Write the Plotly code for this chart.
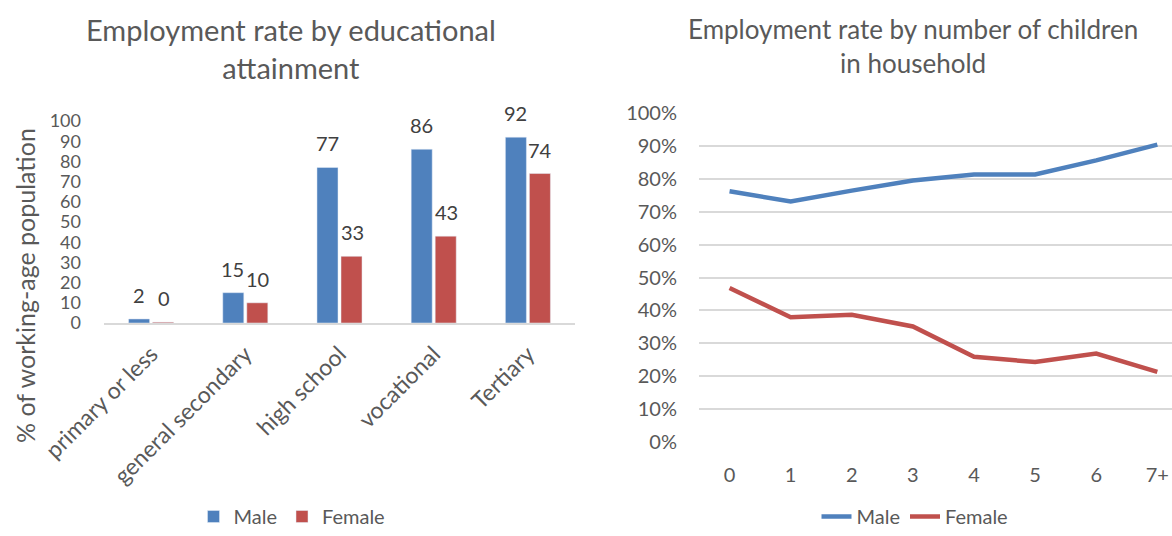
import plotly.graph_objects as go

# Employment rate by educational attainment (% of working-age population)
edu_levels = ["primary or less", "general secondary", "high school", "vocational", "Tertiary"]
edu_male = [2, 15, 77, 86, 92]
edu_female = [0.4, 10, 33, 43, 74]

# Employment rate by number of children in household (share)
children = ["0", "1", "2", "3", "4", "5", "6", "7+"]
kids_male = [0.762, 0.731, 0.764, 0.795, 0.813, 0.813, 0.856, 0.904]
kids_female = [0.468, 0.379, 0.387, 0.351, 0.259, 0.243, 0.269, 0.213]

BLUE = "#4F81BD"
RED = "#C0504D"
GREY = "#595959"
FONT = "Lato, Carlito, Calibri, sans-serif"

W, H = 1172, 536


def px_x(x):
    return x / W


def px_y(y):
    return (H - y) / H


fig = go.Figure()

fig.add_trace(go.Bar(x=edu_levels, y=edu_male, name="Male", marker_color=BLUE,
                     xaxis="x", yaxis="y", legend="legend"))
fig.add_trace(go.Bar(x=edu_levels, y=edu_female, name="Female", marker_color=RED,
                     xaxis="x", yaxis="y", legend="legend"))

fig.add_trace(go.Scatter(x=children, y=kids_male, name="Male", mode="lines",
                         line=dict(color=BLUE, width=4.5),
                         xaxis="x2", yaxis="y2", legend="legend2"))
fig.add_trace(go.Scatter(x=children, y=kids_female, name="Female", mode="lines",
                         line=dict(color=RED, width=4.5),
                         xaxis="x2", yaxis="y2", legend="legend2"))

# value labels above the bars
annotations = []
for series, shift in ((edu_male, -12.5), (edu_female, 12.5)):
    for cat, v in zip(edu_levels, series):
        annotations.append(dict(
            x=cat, y=v, xref="x", yref="y", text=f"{v:.0f}", showarrow=False,
            xshift=shift, yshift=24, yanchor="middle",
            font=dict(family=FONT, size=20, color="#404040")))

# chart titles and left axis title
annotations += [
    dict(x=px_x(291), y=px_y(48), xref="paper", yref="paper",
         text="Employment rate by educational<br>attainment", showarrow=False,
         xanchor="center", yanchor="middle",
         font=dict(family=FONT, size=29, color=GREY)),
    dict(x=px_x(913), y=px_y(46), xref="paper", yref="paper",
         text="Employment rate by number of children<br>in household", showarrow=False,
         xanchor="center", yanchor="middle",
         font=dict(family=FONT, size=26, color=GREY)),
    dict(x=px_x(25), y=px_y(286), xref="paper", yref="paper",
         text="% of working-age population", showarrow=False, textangle=-90,
         xanchor="center", yanchor="middle",
         font=dict(family=FONT, size=25, color=GREY)),
]

tick_font = dict(family=FONT, size=20, color=GREY)

fig.update_layout(
    width=W, height=H,
    margin=dict(l=0, r=0, t=0, b=0, autoexpand=False),
    paper_bgcolor="white", plot_bgcolor="white",
    font=dict(family=FONT, color=GREY),
    barmode="group", bargap=0.49, bargroupgap=0.125,
    annotations=annotations,
    xaxis=dict(domain=[px_x(104), px_x(575)], anchor="y", type="category",
               automargin=False,
               showline=True, linecolor="#D9D9D9", linewidth=1.5,
               showgrid=False, ticks="", tickangle=-45,
               tickfont=dict(family=FONT, size=23, color=GREY),
               ticklabelstandoff=7),
    yaxis=dict(domain=[px_y(323), px_y(121)], anchor="x", range=[0, 100],
               automargin=False,
               dtick=10, showgrid=False, zeroline=False, showline=False,
               ticks="", tickfont=dict(family=FONT, size=18, color=GREY),
               ticklabelstandoff=22),
    xaxis2=dict(domain=[px_x(699), 1.0], anchor="y2", type="category",
                automargin=False,
                range=[-0.5, 7.24], showline=False, showgrid=False,
                ticks="", tickfont=tick_font, ticklabelstandoff=19),
    yaxis2=dict(domain=[px_y(442), px_y(113)], anchor="x2", range=[0, 1],
                automargin=False,
                dtick=0.1, tickformat=".0%", showgrid=True,
                gridcolor="#D9D9D9", gridwidth=1.5, zeroline=False,
                showline=False, ticks="", tickfont=tick_font,
                ticklabelstandoff=21),
    legend=dict(orientation="h", x=px_x(292), y=0, xanchor="center",
                yanchor="bottom", font=dict(family=FONT, size=20, color=GREY),
                bgcolor="rgba(0,0,0,0)"),
    legend2=dict(orientation="h", x=px_x(915), y=0, xanchor="center",
                 yanchor="bottom", font=dict(family=FONT, size=20, color=GREY),
                 bgcolor="rgba(0,0,0,0)"),
    showlegend=True,
)

fig.write_html("out.html")
